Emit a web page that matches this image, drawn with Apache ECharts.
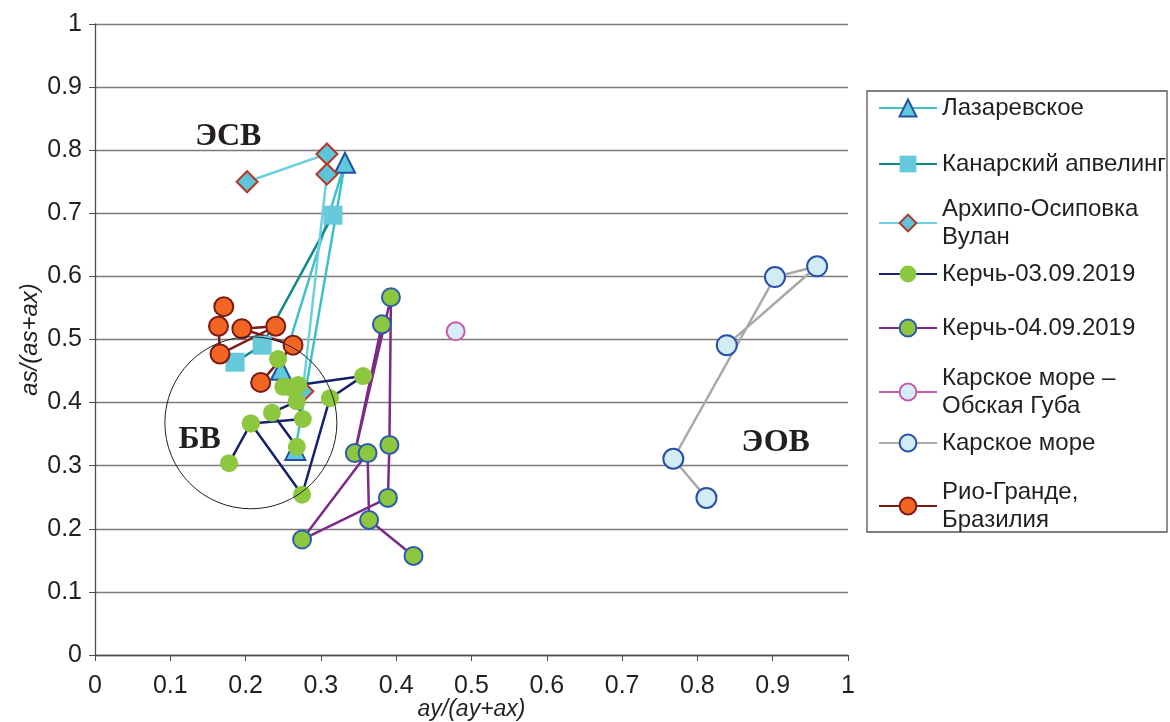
<!DOCTYPE html>
<html>
<head>
<meta charset="utf-8">
<script src="https://cdn.jsdelivr.net/npm/echarts@6/dist/echarts.min.js"></script>
<style>
html, body { margin: 0; padding: 0; background: #fff; }
#chart { width: 1170px; height: 722px; }
</style>
</head>
<body>
<div id="chart"></div>
<script>
// values, [ay/(ay+ax), as/(as+ax)]
const lazarevskoe = [[0.247, 0.452], [0.332, 0.780], [0.266, 0.325]];
const canary = [[0.186, 0.464], [0.222, 0.491], [0.316, 0.697]];
const arkhipo = [[0.202, 0.750], [0.308, 0.794], [0.308, 0.762], [0.276, 0.418]];
const kerch03 = [
	[0.243, 0.469], [0.250, 0.425], [0.259, 0.424], [0.270, 0.428],
	[0.356, 0.442], [0.312, 0.407], [0.275, 0.254], [0.207, 0.367],
	[0.178, 0.304], [0.207, 0.367], [0.276, 0.374], [0.268, 0.402],
	[0.235, 0.384], [0.268, 0.330]
];
const kerch04 = [
	[0.381, 0.524], [0.345, 0.320], [0.393, 0.567], [0.391, 0.333],
	[0.389, 0.249], [0.275, 0.183], [0.362, 0.320], [0.364, 0.214],
	[0.423, 0.157]
];
const obskaya = [[0.479, 0.513]];
const karskoe = [[0.839, 0.491], [0.959, 0.616], [0.903, 0.599], [0.768, 0.311], [0.812, 0.249]];
const rioGrande = [
	[0.171, 0.552], [0.164, 0.521], [0.166, 0.477], [0.240, 0.521],
	[0.195, 0.517], [0.263, 0.491], [0.220, 0.432]
];

const zoneNames = ['ЭСВ', 'БВ', 'ЭОВ'];
const zonePos = [[0.177, 0.821], [0.139, 0.341], [0.904, 0.336]];
const bvCircle = [[0.207, 0.368]];

const seriesNames = [
	'Лазаревское', 'Канарский апвелинг', 'Архипо-Осиповка Вулан', 'Керчь-03.09.2019',
	'Керчь-04.09.2019', 'Карское море – Обская Губа', 'Карское море', 'Рио-Гранде, Бразилия'
];
const legendLabels = [
	'Лазаревское', 'Канарский апвелинг', 'Архипо-Осиповка\nВулан', 'Керчь-03.09.2019',
	'Керчь-04.09.2019', 'Карское море –\nОбская Губа', 'Карское море', 'Рио-Гранде,\nБразилия'
];
const legendTops = [94, 150, 195, 260, 314, 364, 429, 478];

const TEXT = '#231f20';
const FONT = 'Liberation Sans';

const myChart = echarts.init(document.getElementById('chart'));

function lineSeries(name, data, lineColor, symbol, size, fill, border) {
	return {
		name: name,
		type: 'line',
		data: data,
		animation: false,
		symbol: symbol,
		symbolSize: size,
		showAllSymbol: true,
		lineStyle: { width: 2.5, color: lineColor },
		itemStyle: {
			color: fill,
			borderColor: border || fill,
			borderWidth: border ? 2 : 0
		},
		emphasis: { disabled: true }
	};
}

const series = [
	lineSeries(seriesNames[0], lazarevskoe, '#3ec1cd', 'triangle', 20, '#5fc8da', '#2350a4'),
	lineSeries(seriesNames[1], canary, '#108b8a', 'rect', 19, '#66c9dc'),
	lineSeries(seriesNames[2], arkhipo, '#6fcfe1', 'diamond', 21, '#5cc5d9', '#b23a28'),
	lineSeries(seriesNames[3], kerch03, '#16216b', 'circle', 18, '#8dc63f'),
	lineSeries(seriesNames[4], kerch04, '#7b2a86', 'circle', 18, '#8dc63f', '#2d5cad'),
	lineSeries(seriesNames[5], obskaya, '#c85aa9', 'circle', 18, '#d5eef5', '#c85aa9'),
	lineSeries(seriesNames[6], karskoe, '#a9a9a9', 'circle', 20, '#d2ecf3', '#2850a8'),
	lineSeries(seriesNames[7], rioGrande, '#7c1a14', 'circle', 19, '#f26522', '#7c1a14'),
	{
		name: 'circle',
		type: 'scatter',
		data: bvCircle,
		symbol: 'circle',
		symbolSize: 172,
		silent: true,
		animation: false,
		z: 5,
		itemStyle: { color: 'transparent', borderColor: TEXT, borderWidth: 1, opacity: 1 }
	},
	{
		name: 'zones',
		type: 'scatter',
		data: zonePos.map((p, i) => ({ value: p, name: zoneNames[i] })),
		symbolSize: 1,
		silent: true,
		animation: false,
		itemStyle: { color: 'transparent', opacity: 1 },
		label: {
			show: true,
			position: 'inside',
			formatter: '{b}',
			color: TEXT,
			fontFamily: 'Liberation Serif',
			fontWeight: 'bold',
			fontSize: 32
		}
	}
];

const legends = seriesNames.map((name, i) => ({
	data: [name],
	left: 878,
	top: legendTops[i],
	padding: 0,
	itemWidth: 58,
	itemHeight: 21,
	selectedMode: false,
	formatter: () => legendLabels[i],
	textStyle: { fontFamily: FONT, fontSize: 24, lineHeight: 28, color: TEXT }
}));

myChart.setOption({
	animation: false,
	backgroundColor: '#fff',
	grid: { left: 95, right: 322, top: 24, bottom: 67, outerBoundsMode: 'none' },
	legend: legends,
	xAxis: {
		type: 'value',
		min: 0,
		max: 1,
		interval: 0.1,
		name: 'ay/(ay+ax)',
		nameLocation: 'middle',
		nameGap: 43,
		nameMoveOverlap: false,
		nameTextStyle: { fontFamily: FONT, fontStyle: 'italic', fontSize: 23, color: TEXT },
		axisLine: { show: true, lineStyle: { color: '#4d4d4d', width: 1.3 } },
		axisTick: { show: true, length: 6, lineStyle: { color: '#4d4d4d' } },
		axisLabel: { fontFamily: FONT, fontSize: 25, color: TEXT, margin: 19 },
		splitLine: { show: false }
	},
	yAxis: {
		type: 'value',
		min: 0,
		max: 1,
		interval: 0.1,
		name: 'as/(as+ax)',
		nameLocation: 'middle',
		nameGap: 53,
		nameMoveOverlap: false,
		nameTextStyle: { fontFamily: FONT, fontStyle: 'italic', fontSize: 24, color: TEXT },
		axisLine: { show: true, lineStyle: { color: '#4d4d4d', width: 1.3 } },
		axisTick: { show: true, length: 6, lineStyle: { color: '#4d4d4d' } },
		axisLabel: { fontFamily: FONT, fontSize: 25, color: TEXT, margin: 13 },
		splitLine: { show: true, lineStyle: { color: '#7a7a7a', width: 1.3 } }
	},
	graphic: [{
		type: 'rect',
		shape: { x: 867, y: 91, width: 300, height: 441 },
		style: { fill: 'none', stroke: '#555', lineWidth: 1.3 },
		silent: true
	}],
	series: series
});
</script>
</body>
</html>
